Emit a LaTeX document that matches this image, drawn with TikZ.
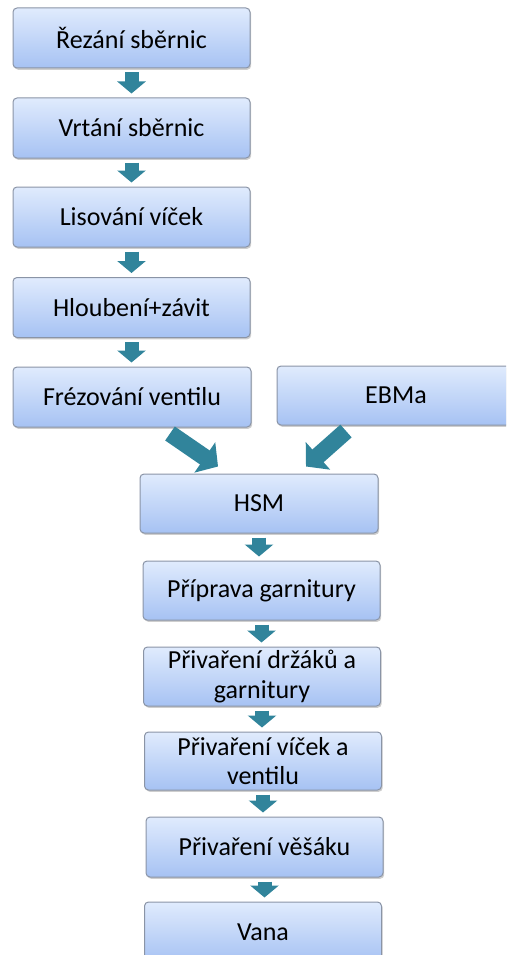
\documentclass[tikz,border=0pt]{standalone}
\usepackage{fontspec}
\setmainfont{Carlito}
\usetikzlibrary{arrows.meta,shadows,calc}
\definecolor{boxtop}{HTML}{E0EBFD}
\definecolor{boxbot}{HTML}{A6C2F3}
\definecolor{boxline}{HTML}{8A94A6}
\definecolor{flowteal}{HTML}{31849B}
\begin{document}
\begin{tikzpicture}[x=1pt,y=-1pt,
  box/.style={rectangle, rounded corners=4pt, draw=boxline, line width=1pt,
    top color=boxtop, bottom color=boxbot,
    minimum width=237pt, minimum height=60pt, inner sep=2pt,
    align=center, text=black, font=\fontsize{26}{29.5}\selectfont,
    drop shadow={shadow xshift=1.2pt, shadow yshift=-1.8pt, opacity=0.35, fill=black!55}},
  flowarrow/.style={draw=flowteal, line width=14pt,
    -{Triangle[width=28pt,length=12pt]}, shorten <=4pt, shorten >=4pt},
  bigarrow/.style={draw=flowteal, line width=17pt,
    -{Triangle[width=36pt,length=16pt]}}]
\useasboundingbox (0,0) rectangle (506,955);
\clip (0,0) rectangle (506,955);

% left column
\node[box] (b1) at (131.5,38) {Řezání sběrnic};
\node[box] (b2) at (131.5,128) {Vrtání sběrnic};
\node[box] (b3) at (131.5,217) {Lisování víček};
\node[box] (b4) at (131.5,307.5) {Hloubení+závit};
\node[box, minimum width=238pt] (b5) at (132,397) {Frézování ventilu};
\node[box, minimum width=238pt, minimum height=59pt] (ebm) at (396,395.5) {EBMa};

% lower column
\node[box, minimum width=238pt, minimum height=59pt] (hsm) at (259,503.5) {HSM};
\node[box, minimum height=59pt] (p1) at (261.5,590.5) {Příprava garnitury};
\node[box, minimum height=59pt] (p2) at (262,676.5) {Přivaření držáků a\\garnitury};
\node[box, minimum height=58pt] (p3) at (263,761) {Přivaření víček a\\ventilu};
\node[box] (p4) at (264.5,847) {Přivaření věšáku};
\node[box] (p5) at (263,932) {Vana};

% straight connectors
\foreach \a/\b in {b1/b2,b2/b3,b3/b4,b4/b5,hsm/p1,p1/p2,p2/p3,p3/p4,p4/p5}
  \draw[flowarrow] (\a.south) -- (\a.south |- \b.north);

% merging connectors into HSM
\draw[bigarrow] ([shift={(38,6)}]b5.south) -- ([shift={(-41,-7)}]hsm.north);
\draw[bigarrow] ([shift={(-50,5.5)}]ebm.south) -- ([shift={(47,-7)}]hsm.north);
\end{tikzpicture}
\end{document}
